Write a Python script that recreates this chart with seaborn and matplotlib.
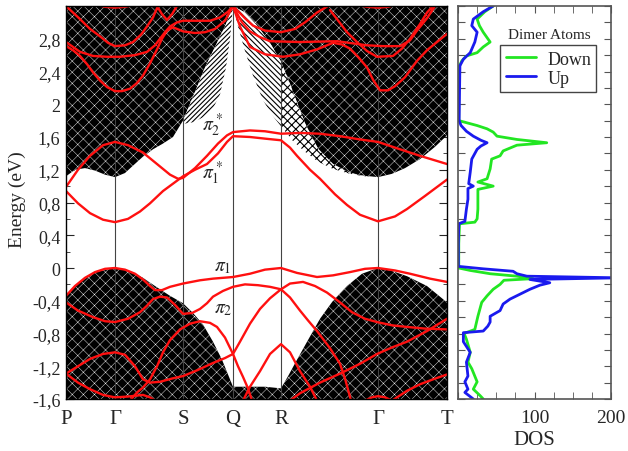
import numpy as np
import pandas as pd
import matplotlib
matplotlib.use("Agg")
import matplotlib.pyplot as plt
import seaborn as sns
from matplotlib.ticker import MultipleLocator, FuncFormatter, FixedLocator
from matplotlib.lines import Line2D

# ---------------- data ----------------
# k-path (arbitrary path-length units)
K_POINTS = [66, 115, 183, 233, 281, 378, 447]
K_LABELS = ["P", "Γ", "S", "Q", "R", "Γ", "T"]

# surface (dimer) bands: (k, E in eV)
RED_PI2S = [(66,0.99),(78,1.20),(90,1.37),(103,1.50),(115,1.54),(128,1.50),(143,1.41),(158,1.26),(170,1.14),
            (178,1.09),(183,1.10),(195,1.22),(207,1.37),(218,1.52),(227,1.62),(233,1.66),(250,1.68),(265,1.67),
            (281,1.64),(300,1.65),(320,1.64),(340,1.61),(360,1.57),(378,1.54),(400,1.45),(420,1.37),(447,1.27)]
RED_PI1S = [(66,0.94),(78,0.79),(90,0.67),(103,0.59),(115,0.56),(128,0.60),(140,0.69),(150,0.79),(163,0.94),
            (173,1.03),(183,1.12),(195,1.20),(207,1.27),(218,1.40),(227,1.54),(233,1.61),(250,1.60),(265,1.58),
            (281,1.56),(290,1.47),(297,1.37),(310,1.20),(320,1.09),(335,0.90),(347,0.77),(360,0.65),(378,0.57),
            (395,0.63),(407,0.72),(425,0.88),(447,1.08)]
RED_U1 = [(66,3.20),(80,3.04),(90,2.92),(100,2.83),(108,2.75),(115,2.71),(125,2.72),(133,2.76),(141,2.85),
          (147,2.95),(153,3.06),(158,3.20)]
RED_U2 = [(66,2.76),(73,2.70),(80,2.64),(93,2.59),(107,2.58),(120,2.58),(135,2.60),(147,2.64),(155,2.72),
          (160,2.80),(165,2.88),(170,2.95),(177,3.00),(183,3.02),(195,3.02),(210,3.02),(220,3.06),(228,3.13),(233,3.20)]
RED_U3 = [(66,2.71),(73,2.66),(80,2.59),(87,2.49),(93,2.39),(100,2.29),(107,2.21),(115,2.16),(122,2.16),
          (130,2.19),(137,2.26),(143,2.35),(150,2.50),(157,2.67),(162,2.80),(167,2.90),(173,2.94),(183,2.89),
          (195,2.87),(205,2.88),(215,2.92),(225,3.02),(233,3.20)]
RED_U4 = [(157,3.20),(162,3.10),(167,3.03),(172,3.10),(177,3.20)]
RED_U5 = [(233,3.20),(245,3.05),(253,2.96),(265,2.90),(281,2.88),(295,2.92),(305,3.00),(317,3.12),(328,3.20)]
RED_U6 = [(233,3.20),(242,3.00),(250,2.89),(260,2.82),(270,2.77),(300,2.76),(337,2.77),(355,2.74),(367,2.72),
          (383,2.71),(400,2.71),(410,2.78),(417,2.90),(427,3.05),(435,3.20)]
RED_U7 = [(233,3.20),(240,2.95),(250,2.70),(265,2.61),(283,2.58),(300,2.61),(317,2.67),(333,2.75),(342,2.73),
          (350,2.68),(358,2.58),(367,2.45),(373,2.30),(380,2.17),(388,2.17),(395,2.22),(405,2.33),(417,2.53),
          (427,2.66),(437,2.76),(447,2.86)]
RED_U8 = [(330,3.15),(337,3.04),(347,2.88),(357,2.76),(367,2.65),(377,2.58),(393,2.59),(402,2.68),(410,2.80),
          (420,2.98),(427,3.12),(433,3.20)]
RED_U9 = [(95,3.22),(105,3.19),(115,3.18),(125,3.19),(138,3.22)]
RED_U10 = [(355,3.22),(367,3.19),(378,3.18),(388,3.19),(398,3.22)]

RED_PI1 = [(66,-0.34),(75,-0.22),(85,-0.12),(95,-0.05),(105,-0.01),(115,0.00),(125,-0.02),(135,-0.07),(143,-0.14),
           (150,-0.22),(155,-0.27),(162,-0.27),(170,-0.23),(183,-0.19),(200,-0.15),(213,-0.13),(233,-0.11),
           (250,-0.07),(265,-0.02),(281,0.00),(297,-0.06),(317,-0.11),(333,-0.09),(350,-0.05),(365,-0.01),
           (378,0.00),(395,-0.03),(410,-0.07),(430,-0.13),(447,-0.17)]
RED_PI2 = [(66,-0.42),(78,-0.52),(93,-0.60),(105,-0.65),(115,-0.66),(128,-0.62),(140,-0.54),(147,-0.46),
           (153,-0.38),(160,-0.35),(167,-0.36),(175,-0.45),(183,-0.56),(192,-0.55),(200,-0.50),(207,-0.43),
           (213,-0.35),(223,-0.28),(233,-0.23),(245,-0.20),(258,-0.21),(270,-0.23),(281,-0.26),(290,-0.36),
           (300,-0.52),(308,-0.64),(317,-0.77),(330,-0.98),(340,-1.17),(345,-1.35),(351,-1.62)]
RED_V3 = [(66,-1.29),(78,-1.20),(90,-1.11),(103,-1.05),(115,-1.03),(125,-1.06),(135,-1.20),(143,-1.36),
          (150,-1.40),(160,-1.39),(172,-1.35),(183,-1.32),(197,-1.25),(213,-1.16),(225,-1.10),(233,-1.05),
          (240,-0.90),(250,-0.68),(260,-0.50),(270,-0.37),(281,-0.26),(290,-0.19),(303,-0.17),(315,-0.22),
          (327,-0.30),(340,-0.42),(352,-0.54),(365,-0.62),(377,-0.66),(392,-0.70),(407,-0.72),(425,-0.74),(447,-0.75)]
RED_V4 = [(130,-1.62),(137,-1.52),(143,-1.46),(150,-1.36),(157,-1.20),(163,-1.03),(170,-0.88),(180,-0.75),
          (190,-0.68),(200,-0.65),(210,-0.67),(217,-0.72),(225,-0.85),(233,-1.05),(238,-1.20),(243,-1.33),
          (248,-1.47),(252,-1.62)]
RED_V5 = [(243,-1.62),(250,-1.45),(260,-1.26),(270,-1.05),(281,-0.93),(290,-1.03),(300,-1.26),(310,-1.45),(317,-1.62)]
RED_V6 = [(290,-1.62),(300,-1.53),(320,-1.40),(340,-1.29),(360,-1.17),(377,-1.05),(392,-0.97),(407,-0.90),
          (427,-0.77),(447,-0.62)]
RED_V7 = [(392,-1.62),(407,-1.50),(420,-1.42),(433,-1.36),(447,-1.30)]
RED_V8 = [(365,-1.62),(372,-1.58),(378,-1.565),(385,-1.58),(392,-1.62)]
RED_V9 = [(66,-1.29),(78,-1.40),(90,-1.48),(103,-1.55),(115,-1.58),(128,-1.57),(143,-1.55),(150,-1.58),(155,-1.62)]

# bulk continuum envelopes (k, E)
COND_DENSE_EDGE = [(66,1.12),(75,1.20),(85,1.22),(95,1.19),(105,1.14),(115,1.11),(125,1.16),(133,1.25),
                   (143,1.36),(153,1.45),(163,1.52),(173,1.60),(183,1.80),(195,2.15),(205,2.45),(215,2.70),
                   (225,2.95),(233,3.20),(245,3.12),(258,2.95),(270,2.75),(281,2.52),(290,2.25),(300,1.92),
                   (310,1.62),(320,1.42),(333,1.27),(345,1.18),(360,1.13),(378,1.11),(392,1.15),(405,1.22),
                   (420,1.33),(435,1.48),(447,1.62)]
COND_FAN_EDGE = [(183,1.76),(193,1.78),(203,1.84),(213,1.95),(220,2.12),(226,2.45),(230,2.80),(233,3.20),
                 (238,2.95),(245,2.65),(253,2.35),(263,2.05),(272,1.87),(281,1.73),(293,1.55),(305,1.42),
                 (318,1.30),(333,1.21),(350,1.15),(365,1.12),(378,1.11)]
VAL_EDGE = [(66,-0.34),(80,-0.17),(95,-0.05),(115,0.00),(130,-0.04),(143,-0.12),(155,-0.22),(170,-0.34),
            (183,-0.43),(193,-0.55),(203,-0.69),(213,-0.90),(222,-1.12),(228,-1.30),(233,-1.45),(250,-1.45),
            (265,-1.45),(281,-1.47),(289,-1.30),(297,-1.12),(308,-0.88),(320,-0.62),(333,-0.40),(347,-0.22),
            (362,-0.07),(378,0.00),(393,-0.04),(407,-0.10),(427,-0.22),(447,-0.42)]

# projected DOS of the dimer atoms
UP_E = [3.20,3.13,3.04,2.96,2.88,2.76,2.63,2.55,2.47,2.15,1.80,1.74,1.67,1.61,1.56,1.53,1.49,1.45,1.33,1.17,
        1.03,1.00,0.97,0.84,0.72,0.57,0.54,0.30,0.02,-0.01,-0.04,-0.07,-0.10,-0.12,-0.14,-0.18,-0.21,-0.26,
        -0.32,-0.38,-0.44,-0.52,-0.59,-0.66,-0.71,-0.77,-0.79,-0.90,-1.03,-1.15,-1.32,-1.39,-1.48,-1.52,-1.60]
UP_DOS = [46,33,20,18,25,22,16,7,2.5,2,1.5,4,11,20,30,38,30,25,18,16,14,20,13,13,11,9,1,0.5,0.5,33,72,77,90,
          210,94,120,107,94,81,68,59,55,42,42,39,33,7,7,16,11,13,9,13,9,20]
DOWN_E = [3.20,3.13,3.04,2.96,2.88,2.76,2.70,2.63,2.59,2.53,2.45,1.80,1.74,1.70,1.66,1.61,1.57,1.53,1.50,1.43,
          1.37,1.33,1.21,1.09,1.05,1.00,0.96,0.84,0.72,0.60,0.56,0.54,0.30,0.00,-0.03,-0.07,-0.10,-0.13,-0.15,
          -0.20,-0.26,-0.34,-0.42,-0.59,-0.75,-0.80,-0.87,-1.03,-1.15,-1.23,-1.39,-1.48,-1.56,-1.60]
DOWN_DOS = [46,35,25,28,33,42,33,25,11,5,1,1,25,38,46,51,77,116,77,59,55,44,42,38,26,46,26,26,26,25,22,2,1,1,
            16,42,77,98,60,55,46,38,31,26,22,8,11,16,13,18,25,20,29,33]

LABELS_PI = [(212, 1.76, r"$\pi_2^*$"), (212, 1.17, r"$\pi_1^*$"), (223, 0.02, r"$\pi_1$"), (223, -0.50, r"$\pi_2$")]

# ---------------- style ----------------
sns.set_style("ticks")
plt.rcParams["font.family"] = ["Liberation Serif", "DejaVu Serif"]
plt.rcParams["mathtext.fontset"] = "stix"

fig = plt.figure(figsize=(6.28, 4.52), dpi=100)
W, H = 628.0, 452.0
ax = fig.add_axes([66 / W, 1 - 400 / H, (447 - 66) / W, (400 - 7) / H])
ax2 = fig.add_axes([458 / W, 1 - 400 / H, (611 - 458) / W, (400 - 7) / H])

YMIN, YMAX = -1.6, 3.2

# bulk continuum: dense mesh regions
plt.rcParams["hatch.linewidth"] = 0.3
ck, ce = zip(*COND_DENSE_EDGE)
ax.fill_between(ck, ce, YMAX + 0.5, facecolor="black", edgecolor="white", hatch="xxx", linewidth=0, zorder=1)
vk, ve = zip(*VAL_EDGE)
ax.fill_between(vk, YMIN - 0.5, ve, facecolor="black", edgecolor="white", hatch="xxx", linewidth=0, zorder=1)

# bulk continuum: sparse fans of bands
plt.rcParams["hatch.linewidth"] = 0.8
fk, fe = zip(*COND_FAN_EDGE)
fk = np.array(fk); fe = np.array(fe)
dense_at_fan = np.interp(fk, ck, ce)
ax.fill_between(fk, fe, dense_at_fan, where=fk <= 233, facecolor="white", edgecolor="black",
                hatch="/" * 7, linewidth=0, zorder=1)
ax.fill_between(fk, fe, dense_at_fan, where=(fk >= 233) & (fk <= 281), facecolor="white", edgecolor="black",
                hatch="\\" * 6, linewidth=0, zorder=1)
ax.fill_between(fk, fe, dense_at_fan, where=fk >= 281, facecolor="white", edgecolor="black",
                hatch="x" * 4, linewidth=0, zorder=1)

# high-symmetry lines
ax.vlines(K_POINTS[1:-1], YMIN, YMAX, color="#444444", lw=0.8, zorder=2)

# surface bands
red_sets = [RED_PI2S, RED_PI1S, RED_U1, RED_U2, RED_U3, RED_U4, RED_U5, RED_U6, RED_U7, RED_U8, RED_U9, RED_U10,
            RED_PI1, RED_PI2, RED_V3, RED_V4, RED_V5, RED_V6, RED_V7, RED_V8, RED_V9]
df = pd.concat([pd.DataFrame(c, columns=["k", "E"]).assign(curve=i) for i, c in enumerate(red_sets)],
               ignore_index=True)
sns.lineplot(data=df, x="k", y="E", units="curve", estimator=None, sort=True, color="#ff1010", lw=1.7,
             ax=ax, legend=False, zorder=3)

for k, e, t in LABELS_PI:
    ax.text(k, e, t, ha="center", va="center", fontsize=14, zorder=4)


def comma_fmt(v, p):
    v = round(v, 1)
    if abs(v) < 1e-9:
        return "0"
    return ("%g" % v).replace(".", ",")


ax.set_xlim(K_POINTS[0], K_POINTS[-1])
ax.set_ylim(YMIN, YMAX)
ax.set_xticks(K_POINTS)
ax.set_xticklabels(K_LABELS, fontsize=15)
ax.tick_params(axis="x", length=0, pad=7)
ax.yaxis.set_major_locator(FixedLocator(np.round(np.arange(-1.6, 2.81, 0.4), 1)))
ax.yaxis.set_minor_locator(MultipleLocator(0.2))
ax.yaxis.set_major_formatter(FuncFormatter(comma_fmt))
ax.tick_params(axis="y", which="both", direction="in", left=True, right=True, labelsize=13, pad=4)
ax.tick_params(axis="y", which="major", length=6)
ax.tick_params(axis="y", which="minor", length=3)
ax.set_xlabel("")
ax.set_ylabel("Energy (eV)", fontsize=14)
ax.yaxis.set_label_coords(-0.105, 0.51)
for s in ax.spines.values():
    s.set_visible(True)
    s.set_color("black")
    s.set_linewidth(1.0)
    s.set_zorder(5)

# DOS panel
sns.lineplot(x=DOWN_DOS, y=DOWN_E, sort=False, estimator=None, color="#22e622", lw=2, ax=ax2)
sns.lineplot(x=UP_DOS, y=UP_E, sort=False, estimator=None, color="#1a1aee", lw=2, ax=ax2)
ax2.set_xlim(0, 200)
ax2.set_ylim(YMIN, YMAX)
ax2.xaxis.set_major_locator(FixedLocator([0, 100, 200]))
ax2.xaxis.set_minor_locator(MultipleLocator(25))
ax2.set_xticklabels(["", "100", "200"], fontsize=14)
ax2.yaxis.set_major_locator(MultipleLocator(0.2))
ax2.set_yticklabels([])
ax2.tick_params(axis="both", which="both", direction="in", top=True, bottom=True, left=True, right=True,
                length=5, color="#555555")
ax2.tick_params(axis="x", pad=7)
ax2.set_xlabel("DOS", fontsize=15, labelpad=3)
ax2.set_ylabel("")
for s in ax2.spines.values():
    s.set_visible(True)
    s.set_color("#555555")
    s.set_linewidth(1.2)

handles = [Line2D([], [], color="#22e622", lw=2), Line2D([], [], color="#1a1aee", lw=2)]
leg = ax2.legend(handles, ["Down", "Up"], loc="upper right", bbox_to_anchor=(0.905, 0.90), frameon=True,
                 fancybox=False, edgecolor="#444444", framealpha=1, borderaxespad=0, fontsize=13,
                 handlelength=1.7, borderpad=0.3, labelspacing=0.1, handletextpad=0.6)
leg.get_frame().set_linewidth(1.0)
ax2.text(0.595, 0.928, "Dimer Atoms", transform=ax2.transAxes, ha="center", va="center", fontsize=11)

fig.savefig("out.png", dpi=100)
